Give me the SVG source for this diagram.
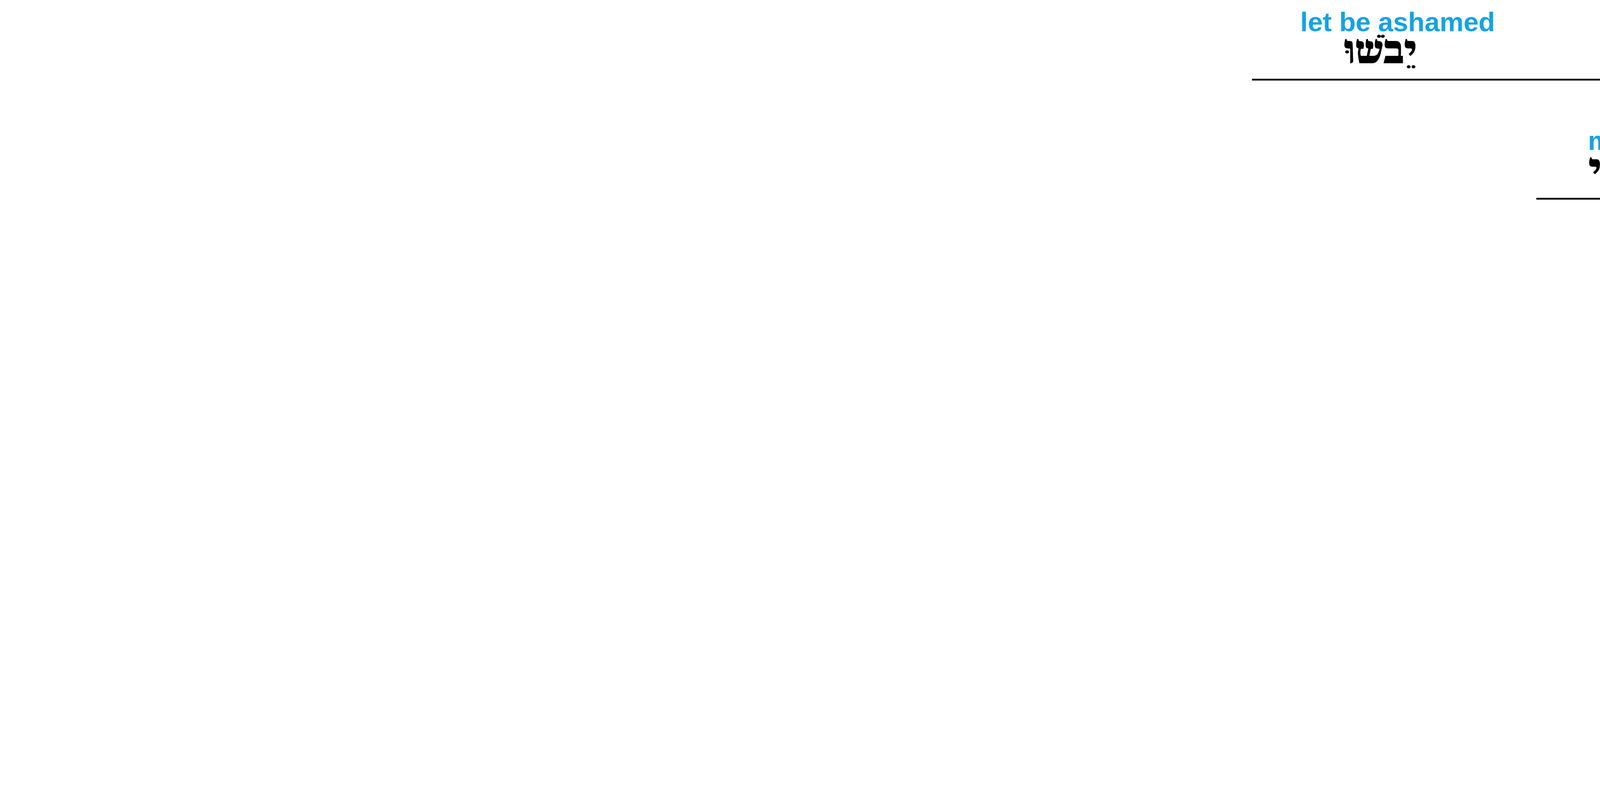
<svg xmlns="http://www.w3.org/2000/svg" width="7805" height="2049" viewBox="0 0 7805 2049">
<style>
.en{font-family:"Liberation Sans",Arial,sans-serif;font-weight:bold;font-size:69px;fill:#13a3e6}
.enr{font-weight:normal}
.he{font-family:"Noto Serif Hebrew","Liberation Serif",serif;font-weight:900;font-size:95px;fill:#000}
.gray{fill:#aaaaaa}
.par{font-family:"Liberation Serif",serif;font-size:100px;fill:#000}
.ln{stroke:#000;stroke-width:4.5;fill:none}
.dash{stroke:#000;stroke-width:4;fill:none;stroke-dasharray:12 12}
.thin{stroke:#000;stroke-width:3;fill:none}
</style>
<rect width="7805" height="2049" fill="#fff"/>
<g id="connectors">
<path class="ln" d="M3205 204H7685"/>
<path class="ln" d="M6377 30V290"/>
<path class="dash" d="M6377 290V509H6252"/>
<path class="ln" d="M3933 509H6252"/>
<path class="ln" d="M4378 335V509"/>
<path class="ln" d="M6065 336V595"/>
<path class="ln" d="M4995 814H5720"/>
<path class="dash" d="M5722 814H5759L5937 509"/>
<path class="thin" d="M7110 204L7022 349"/>
<path class="ln" d="M5714 1468H7685"/>
<path class="ln" d="M7167 1293V1555"/>
<path class="ln" d="M6981 1468L6805 1773H6088V1990H5714"/>
</g>
<g id="n-yevoshu">
<text class="en" x="3578" y="80" text-anchor="middle">let be ashamed</text>
<text class="he" x="3533" y="161" text-anchor="middle" direction="rtl">יֵבֹשׁוּ</text>
</g>
<g id="n-placeholder">
<text class="par" x="7234" y="163" text-anchor="middle">( )</text>
</g>
<g id="n-zedim">
<text class="he" x="6986" y="288" text-anchor="middle" direction="rtl">זֵדִים</text>
<text class="en" x="7108" y="288">arrogant people</text>
</g>
<g id="n-ki">
<text class="he" x="6288" y="421" text-anchor="middle" direction="rtl">כִּי</text>
<text class="en" x="6604" y="421" text-anchor="middle">because</text>
</g>
<g id="n-ni">
<text class="en" x="4115" y="384" text-anchor="middle">me</text>
<text class="he" x="4100" y="464" text-anchor="middle" direction="rtl">נִי</text>
</g>
<g id="n-ivtuni">
<text class="en" x="5269" y="384" text-anchor="middle">they have caused to be seen as crooked</text>
<text class="he" x="5167" y="466" text-anchor="middle" direction="rtl">עִוְּתוּ<tspan class="gray">נִי</tspan></text>
</g>
<g id="n-sheqer">
<text class="en" x="5349" y="690" text-anchor="middle"><tspan class="enr">lie&gt;&gt;</tspan>with a lie</text>
<text class="he" x="5332" y="770" text-anchor="middle" direction="rtl">שֶׁקֶר</text>
</g>
<g id="n-ani">
<text class="en" x="7514" y="1343" text-anchor="middle">I</text>
<text class="he" x="7493" y="1424" text-anchor="middle" direction="rtl">אֲנִי</text>
</g>
<g id="n-asiach">
<text class="en" x="6408" y="1342" text-anchor="middle">meditate</text>
<text class="he" x="6365" y="1423" text-anchor="middle" direction="rtl">אָשִׂיחַ</text>
</g>
<g id="n-be">
<text class="he" x="6792" y="1658" text-anchor="middle" direction="rtl">בְּ</text>
<text class="en" x="6978" y="1661" text-anchor="middle">on</text>
</g>
<g id="n-piqqudekha">
<text class="en" x="6452" y="1648" text-anchor="middle">precepts</text>
<text class="he" x="6387" y="1742" text-anchor="middle" direction="rtl">פִּקּוּדֶי<tspan class="gray">ךָ</tspan></text>
</g>
<g id="n-kha">
<text class="en" x="5906" y="1867" text-anchor="middle">you</text>
<text class="he" x="5895" y="1945" text-anchor="middle" direction="rtl">ךָ</text>
</g>
</svg>
